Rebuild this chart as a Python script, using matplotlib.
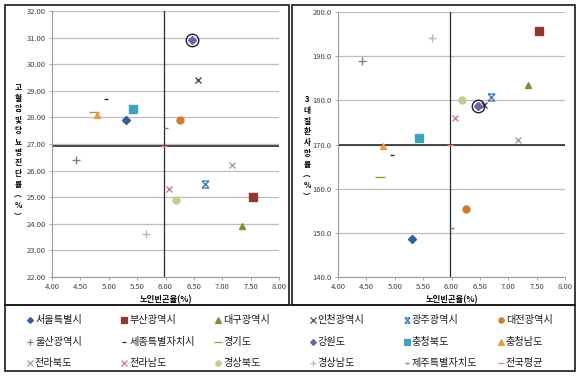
import matplotlib
matplotlib.use("Agg")
import matplotlib.pyplot as plt
import numpy as np
from matplotlib.path import Path
from matplotlib.patches import Rectangle
from matplotlib.lines import Line2D

plt.rcParams['font.family'] = ['Noto Sans CJK KR', 'DejaVu Sans']

# data
regions = ['서울특별시', '부산광역시', '대구광역시', '인천광역시', '광주광역시', '대전광역시',
           '울산광역시', '세종특별자치시', '경기도', '강원도', '충청북도', '충청남도',
           '전라북도', '전라남도', '경상북도', '경상남도', '제주특별자치도', '전국평균']
poverty = [5.30, 7.54, 7.34, 6.58, 6.70, 6.25, 4.42, 4.96, 4.74, 6.46, 5.43, 4.79,
           7.17, 6.07, 6.19, 5.66, 6.01, 5.98]
screening = [27.9, 25.0, 23.9, 29.4, 25.5, 27.9, 26.4, 28.7, 28.2, 30.9, 28.3, 28.1,
             26.2, 25.3, 24.9, 23.6, 27.6, 26.92]
mortality = [148.6, 195.8, 183.4, 178.9, 180.7, 155.3, 188.9, 167.7, 162.6, 178.7, 171.4, 169.7,
             171.0, 175.9, 180.1, 194.2, 151.1, 169.9]
highlight = '강원도'

# Excel-like star: X plus top/bottom bars
star = Path([(-1, -1), (1, 1), (-1, 1), (1, -1), (-1, 1), (1, 1), (-1, -1), (1, -1)],
            [Path.MOVETO, Path.LINETO, Path.MOVETO, Path.LINETO,
             Path.MOVETO, Path.LINETO, Path.MOVETO, Path.LINETO])

styles = [
    ('D', '#365F9C', 4.0), ('s', '#943634', 5.2), ('^', '#76923C', 5.0), ('x', '#4A4A5A', 5.0),
    (star, '#4A7EBB', 5.0), ('o', '#D27A2E', 5.0), ('+', '#808080', 5.5), ('_', '#4A1E1E', 3.0),
    ('_', '#9A9A40', 7.0), ('D', '#7462A8', 4.0), ('s', '#3FA3BC', 5.2), ('^', '#EE9A3E', 5.0),
    ('x', '#A0A0A0', 5.0), ('x', '#CF7A90', 5.0), ('o', '#BCD08E', 5.0), ('+', '#B8B8B8', 5.5),
    ('_', '#808080', 3.0), ('_', '#E38762', 5.0),
]

fig = plt.figure(figsize=(5.8, 3.76), dpi=100)


def px(x0, y0, x1, y1):
    return [x0 / 580, 1 - y1 / 376, (x1 - x0) / 580, (y1 - y0) / 376]


def panel(ax, yvals, ylim, yticks, yfmt):
    ax.set_xlim(4, 8)
    ax.set_ylim(*ylim)
    ax.set_xticks(np.arange(4, 8.01, 0.5))
    ax.set_xticklabels([f'{v:.2f}' for v in np.arange(4, 8.01, 0.5)], fontsize=5.5, color='#404040')
    ax.set_yticks(yticks)
    ax.set_yticklabels([yfmt.format(v) for v in yticks], fontsize=5.5, color='#404040')
    ax.grid(axis='y', color='#BDBDBD', linewidth=0.9)
    ax.set_axisbelow(True)
    for s in ['top', 'right']:
        ax.spines[s].set_visible(False)
    for s in ['left', 'bottom']:
        ax.spines[s].set_color('#9A9A9A')
        ax.spines[s].set_linewidth(0.8)
    ax.tick_params(length=2.5, width=0.6, color='#9A9A9A', pad=2)
    # national average crosshair
    ax.axvline(poverty[-1], color='#2A2A2A', linewidth=0.9, zorder=2)
    ax.axhline(yvals[-1], color='#2A2A2A', linewidth=1.2, zorder=2)
    for i, name in enumerate(regions):
        m, c, ms = styles[i]
        ax.plot(poverty[i], yvals[i], linestyle='none', marker=m, color=c,
                markersize=ms, markeredgewidth=1.0, zorder=3)
        if name == highlight:
            ax.plot(poverty[i], yvals[i], linestyle='none', marker='o', markersize=9,
                    markerfacecolor='none', markeredgecolor='#1F1F3A', markeredgewidth=1.0, zorder=4)
    ax.set_xlabel('노인빈곤율(%)', fontsize=6, fontweight='bold', labelpad=3)


ax1 = fig.add_axes(px(52, 11, 279, 277))
panel(ax1, screening, (22, 32), np.arange(22, 32.01, 1), '{:.2f}')
ax2 = fig.add_axes(px(338, 12, 565, 277))
panel(ax2, mortality, (140, 200), np.arange(140, 200.01, 10), '{:.1f}')

# stacked vertical y labels
fig.text(18 / 580, 1 - 152 / 376, '고\n혈\n압\n및\n당\n뇨\n병\n진\n단\n률\n︵\n%\n︶',
         ha='center', va='center', fontsize=5.5, fontweight='bold', linespacing=1.25)
fig.text(307 / 580, 1 - 148 / 376, '3\n대\n질\n환\n사\n망\n률\n︵\n%\n︶',
         ha='center', va='center', fontsize=5.5, fontweight='bold', linespacing=1.25)

# panel frames
for (x0, y0, x1, y1) in [(5, 5, 289, 305), (292, 5, 575, 305), (5, 305, 575, 371)]:
    fig.add_artist(Rectangle((x0 / 580, 1 - y1 / 376), (x1 - x0) / 580, (y1 - y0) / 376,
                             transform=fig.transFigure, fill=False, edgecolor='#1A1A1A', linewidth=1.2))

# legend table: 6 columns x 3 rows, fixed column positions
for k, name in enumerate(regions):
    r, c = divmod(k, 6)
    lx = (30 + 94.2 * c) / 580
    ly = 1 - (320 + 21.5 * r) / 376
    m, col, ms = styles[k]
    fig.add_artist(Line2D([lx], [ly], transform=fig.transFigure, linestyle='none', marker=m,
                          color=col, markersize=ms * 0.75, markeredgewidth=0.9))
    fig.text(lx + 5 / 580, ly, name, ha='left', va='center', fontsize=7.3, color='#1A1A1A')

plt.savefig('out.png', dpi=100)
